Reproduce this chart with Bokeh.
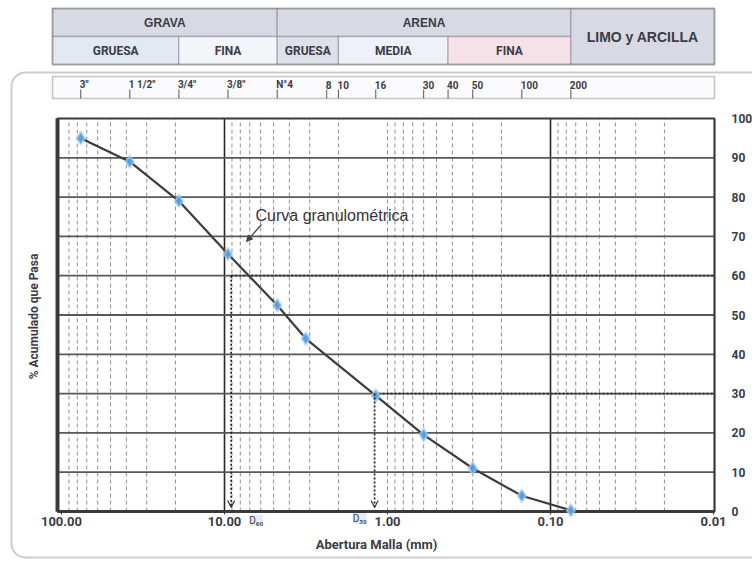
import math
from bokeh.plotting import figure
from bokeh.models import (Range1d, FixedTicker, PrintfTickFormatter, Label,
                          BoxAnnotation, Arrow, OpenHead, NormalHead, ColumnDataSource)
from bokeh.core.properties import value
from bokeh.embed import file_html
from bokeh.resources import INLINE

# ---------------- data ----------------
sieve_labels = ['3"', '1 1/2"', '3/4"', '3/8"', 'N°4', '8', '10', '16', '30', '40', '50', '100', '200']
sieve_mm = [76.2, 38.1, 19.05, 9.525, 4.75, 2.36, 2.0, 1.18, 0.6, 0.425, 0.3, 0.15, 0.075]

curve_mm = [76.2, 38.1, 19.05, 9.525, 4.75, 3.175, 1.18, 0.6, 0.3, 0.15, 0.075]
curve_pass = [95, 89, 79, 65.5, 52.5, 44, 29.5, 19.5, 11, 4, 0.3]

x_ticks = [100, 10, 1, 0.1, 0.01]
y_ticks = [0, 10, 20, 30, 40, 50, 60, 70, 80, 90, 100]

d60_mm, d60_pct = 9.1, 60
d30_mm, d30_pct = 1.2, 30

header_top = ["GRAVA", "ARENA", "LIMO y ARCILLA"]
header_sub = ["GRUESA", "FINA", "GRUESA", "MEDIA", "FINA"]
# class limits (mm): 3/4", N°4, N°10, N°40, N°200
limit_mm = [19.05, 4.75, 2.0, 0.425, 0.075]

# ---------------- layout (page pixels -> data, for decorations only) ----------------
W, H = 752, 561
FL, FR, FT, FB = 57, 714, 118, 511      # plot box on the page
X100_PX, PX_DEC = 61.0, 163.0           # where 100 mm sits, pixels per decade


def xd(px):
    return 10 ** (2 - (px - X100_PX) / PX_DEC)


def yd(py):
    return (FB - py) / (FB - FT) * 100.0


XL, XR = xd(FL), xd(FR)

NARROW = "Roboto"
SANS = "'Liberation Sans', Arial, sans-serif"
TXT = "#3b3b46"
LINE = "#4a4a55"

p = figure(width=W, height=H, x_axis_type="log",
           x_range=Range1d(xd(0), xd(W)), y_range=Range1d(yd(H), yd(0)),
           y_axis_location="right", output_backend="svg", toolbar_location=None,
           min_border=0, min_border_left=0, min_border_right=0,
           min_border_top=0, min_border_bottom=0)
p.title.visible = False
p.background_fill_color = "white"
p.border_fill_color = "white"
p.outline_line_color = None
p.grid.visible = False

# ---------------- grid lines of the chart ----------------
major_v = [10, 0.1]
minor_v = []
for e in (-2, -1, 0, 1):
    for k in range(2, 10):
        minor_v.append(k * 10.0 ** e)
minor_v.append(1.0)
n = len(minor_v)
p.segment(x0=minor_v, y0=[0] * n, x1=minor_v, y1=[100] * n,
          line_color="#8f8f8f", line_dash="4 3", line_width=1)
p.segment(x0=major_v, y0=[0, 0], x1=major_v, y1=[100, 100],
          line_color="#262626", line_width=1.6)
hy = y_ticks[1:-1]
p.segment(x0=[XL] * len(hy), y0=hy, x1=[XR] * len(hy), y1=hy,
          line_color="#585858", line_width=1.8)
# chart box
p.quad(left=[XL], right=[XR], top=[100], bottom=[0], fill_color=None,
       line_color="#3a3a3a", line_width=2.2)
p.segment(x0=[XL], y0=[0], x1=[XL], y1=[100], line_color="#3a3a3a", line_width=4)
p.segment(x0=[XL], y0=[0], x1=[XR], y1=[0], line_color="#3a3a3a", line_width=3)

# ---------------- axes ----------------
xa = p.xaxis[0]
xa.fixed_location = 0
xa.ticker = FixedTicker(ticks=x_ticks)
xa.formatter = PrintfTickFormatter(format="%.2f")
xa.axis_line_color = None
xa.major_tick_out = 3
xa.major_tick_in = 0
xa.major_tick_line_color = "#333333"
xa.minor_tick_line_color = None
xa.major_label_standoff = 2
xa.major_label_text_font = NARROW
xa.major_label_text_font_style = "bold"
xa.major_label_text_font_size = "13px"
xa.major_label_text_color = TXT
xa.axis_label = "Abertura Malla (mm)"
xa.axis_label_standoff = 8
xa.axis_label_text_font = NARROW
xa.axis_label_text_font_style = "bold"
xa.axis_label_text_font_size = "13px"
xa.axis_label_text_color = TXT

ya = p.yaxis[0]
ya.fixed_location = XR
ya.ticker = FixedTicker(ticks=y_ticks)
ya.axis_line_color = None
ya.major_tick_line_color = None
ya.minor_tick_line_color = None
ya.major_label_standoff = 11
ya.major_label_text_font = NARROW
ya.major_label_text_font_style = "bold"
ya.major_label_text_font_size = "12px"
ya.major_label_text_color = TXT

p.text(x=[xd(33)], y=[yd(316)], text=["% Acumulado que Pasa"], angle=math.pi / 2,
       text_align="center", text_baseline="middle", text_font=value(NARROW),
       text_font_style="bold", text_font_size="12px", text_color=TXT)

# ---------------- D60 / D30 construction ----------------
p.segment(x0=[d60_mm, d30_mm], y0=[d60_pct, d30_pct], x1=[XR, XR], y1=[d60_pct, d30_pct],
          line_color="#222222", line_width=1.7, line_dash="2 2")
for dm, dp in ((d60_mm, d60_pct), (d30_mm, d30_pct)):
    p.add_layout(Arrow(x_start=dm, y_start=dp, x_end=dm, y_end=1.0,
                       line_color="#222222", line_width=1.7, line_dash="2 2",
                       end=OpenHead(size=7, line_color="#333333", line_width=1.2)))
p.add_layout(Label(x=d60_mm, y=yd(520), text="D₆₀", x_offset=18, text_font=NARROW,
                   text_font_size="10px", text_color=TXT, text_baseline="middle",
                   text_align="left", background_fill_color="#e4ebf4"))
p.add_layout(Label(x=d30_mm, y=yd(518), text="D₃₀", x_offset=-8, text_font=NARROW,
                   text_font_size="10px", text_color=TXT, text_baseline="middle",
                   text_align="right", background_fill_color="#e4ebf4"))

# ---------------- grading curve ----------------
p.line(curve_mm, curve_pass, line_color="#3c3c3c", line_width=2.2)
p.scatter(curve_mm, curve_pass, marker="diamond", size=17, fill_color="#a8d0f2",
          fill_alpha=0.45, line_color=None)
p.scatter(curve_mm, curve_pass, marker="diamond", size=11, fill_color="#5b9fd9",
          line_color="#93c4ee", line_width=1.2)

p.add_layout(Label(x=xd(255), y=yd(215), text="Curva granulométrica", text_font=SANS,
                   text_font_size="16px", text_color="#333333", text_baseline="middle",
                   text_align="left"))
p.add_layout(Arrow(x_start=xd(261), y_start=yd(224), x_end=xd(246), y_end=yd(241),
                   line_color="#444444", line_width=1.2,
                   end=NormalHead(size=6, fill_color="#444444", line_color="#444444")))

# ---------------- rounded outer frame ----------------
p.add_layout(BoxAnnotation(left=xd(11), right=xd(800), top=yd(72), bottom=yd(557),
                           fill_color=None, line_color="#555555", line_width=2,
                           border_radius=14))

# ---------------- sieve strip ----------------
p.add_layout(BoxAnnotation(left=xd(52), right=xd(714), top=yd(76), bottom=yd(98),
                           fill_color="#fbfbfd", fill_alpha=1, line_color="#444444",
                           line_width=1.6))
tick_src = ColumnDataSource(dict(x=sieve_mm, y0=[yd(98)] * len(sieve_mm),
                                 y1=[yd(89)] * len(sieve_mm)))
p.add_layout(Arrow(x_start="x", y_start="y0", x_end="x", y_end="y1", source=tick_src,
                   end=None, line_color="#555555", line_width=1))
for lbl, mm in zip(sieve_labels, sieve_mm):
    p.add_layout(Label(x=mm, y=yd(84), text=lbl, x_offset=-1, text_font=NARROW,
                       text_font_style="bold", text_font_size="10px", text_color=TXT,
                       text_baseline="middle", text_align="left"))

# ---------------- header table ----------------
top_y, mid_y, bot_y = yd(8), yd(36), yd(64)
left_x, right_x = xd(52), xd(714)
row1_bounds = [(left_x, limit_mm[1]), (limit_mm[1], limit_mm[4])]
row2_bounds = [(left_x, limit_mm[0]), (limit_mm[0], limit_mm[1]), (limit_mm[1], limit_mm[2]),
               (limit_mm[2], limit_mm[3]), (limit_mm[3], limit_mm[4])]
row2_fill = ["#e3e9f3", "#f3f5f9", "#dfe1e9", "#eef1f7", "#f5e2e8"]
for (a, b) in row1_bounds:
    p.add_layout(BoxAnnotation(left=a, right=b, top=top_y, bottom=mid_y, fill_color="#d8dae3",
                               fill_alpha=1, line_color=LINE, line_width=1.4))
for (a, b), fc in zip(row2_bounds, row2_fill):
    p.add_layout(BoxAnnotation(left=a, right=b, top=mid_y, bottom=bot_y, fill_color=fc,
                               fill_alpha=1, line_color=LINE, line_width=1.4))
p.add_layout(BoxAnnotation(left=limit_mm[4], right=right_x, top=top_y, bottom=bot_y,
                           fill_color="#d8d9e2", fill_alpha=1, line_color=LINE,
                           line_width=1.4))
p.add_layout(BoxAnnotation(left=left_x, right=right_x, top=top_y, bottom=bot_y,
                           fill_color=None, line_color=LINE, line_width=2))


def gmid(a, b):
    return 10 ** ((math.log10(a) + math.log10(b)) / 2)


for name, (a, b) in zip(header_top[:2], row1_bounds):
    p.add_layout(Label(x=gmid(a, b), y=(top_y + mid_y) / 2, text=name, text_font=SANS,
                       text_font_style="bold", text_font_size="12px", text_color=TXT,
                       text_align="center", text_baseline="middle"))
for name, (a, b) in zip(header_sub, row2_bounds):
    p.add_layout(Label(x=gmid(a, b), y=(mid_y + bot_y) / 2, text=name, text_font=NARROW,
                       text_font_style="bold", text_font_size="12px", text_color=TXT,
                       text_align="center", text_baseline="middle"))
p.add_layout(Label(x=gmid(limit_mm[4], right_x), y=(top_y + bot_y) / 2, text=header_top[2],
                   text_font=SANS, text_font_style="bold", text_font_size="14px",
                   text_color=TXT, text_align="center", text_baseline="middle"))

open("out.html", "w").write(file_html(p, INLINE))
